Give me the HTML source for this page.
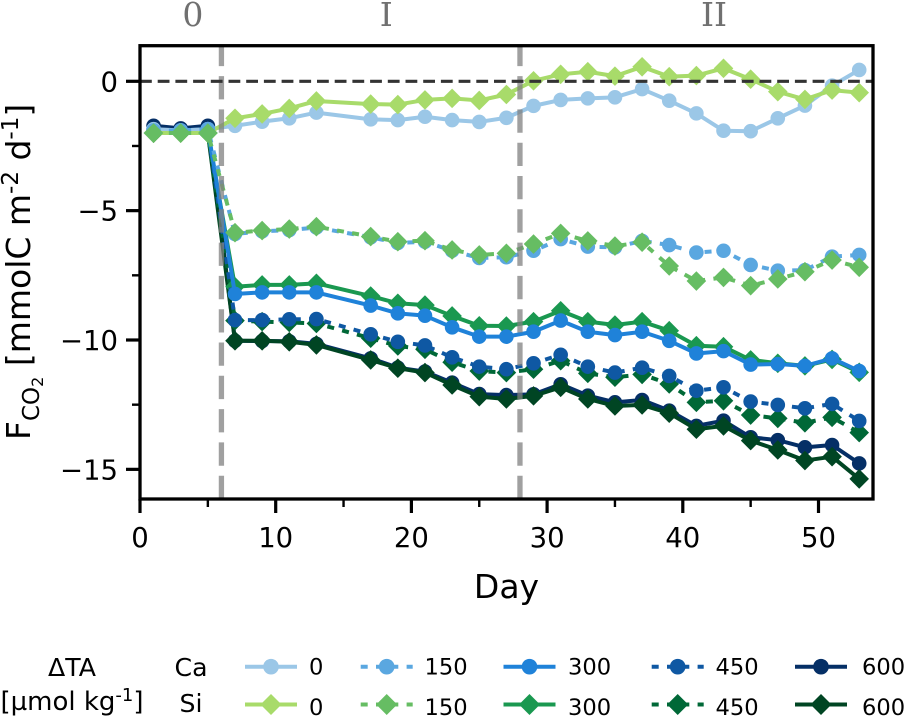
<!DOCTYPE html>
<html>
<head>
<meta charset="utf-8">
<title>CO2 flux chart</title>
<style>
html,body{margin:0;padding:0;background:#fff;}
svg{display:block;font-family:"DejaVu Sans","Liberation Sans",sans-serif;}
.leg{font-size:22.6px;fill:#000;}
.leg2{font-size:25.2px;fill:#000;}
</style>
</head>
<body>
<svg id="chart" width="905" height="716" viewBox="0 0 905 716" xmlns="http://www.w3.org/2000/svg">
  <g id="plot"></g>
  <g id="axes"></g>
  <text x="506.5" y="598" font-size="33" text-anchor="middle">Day</text>
  <text transform="translate(30,440) rotate(-90)" font-size="33">F<tspan font-size="23" dy="9">CO</tspan><tspan font-size="16" dy="4">2</tspan><tspan dy="-13"> [mmolC m</tspan><tspan font-size="23" dy="-12">-2</tspan><tspan dy="12"> d</tspan><tspan font-size="23" dy="-12">-1</tspan><tspan dy="12">]</tspan></text>

  <g>
    <text class="leg2" x="72" y="676" text-anchor="middle">ΔTA</text>
    <text class="leg2" x="72" y="710" text-anchor="middle" style="font-size:26px">[µmol kg<tspan font-size="18" dy="-9">-1</tspan><tspan dy="9">]</tspan></text>
    <text class="leg2" x="191" y="676" text-anchor="middle">Ca</text>
    <text class="leg2" x="191" y="712" text-anchor="middle">Si</text>

    <g>
      <line x1="245" x2="297" y1="666.7" y2="666.7" stroke="#9bc7e7" stroke-width="4"/>
      <circle cx="271" cy="666.7" r="7.8" fill="#9bc7e7"/>
      <text class="leg" x="309" y="674.5">0</text>
    </g>
    <g>
      <line x1="360.7" x2="412.7" y1="666.7" y2="666.7" stroke="#5aa7e0" stroke-width="4" stroke-dasharray="7 8.3"/>
      <circle cx="386.7" cy="666.7" r="7.8" fill="#5aa7e0"/>
      <text class="leg" x="424.5" y="674.5">150</text>
    </g>
    <g>
      <line x1="503.5" x2="555.5" y1="666.7" y2="666.7" stroke="#1f82d9" stroke-width="4"/>
      <circle cx="529.5" cy="666.7" r="7.8" fill="#1f82d9"/>
      <text class="leg" x="568" y="674.5">300</text>
    </g>
    <g>
      <line x1="651.7" x2="703.7" y1="666.7" y2="666.7" stroke="#0f58a3" stroke-width="4" stroke-dasharray="7 8.3"/>
      <circle cx="677.7" cy="666.7" r="7.8" fill="#0f58a3"/>
      <text class="leg" x="715.5" y="674.5">450</text>
    </g>
    <g>
      <line x1="795" x2="847" y1="666.7" y2="666.7" stroke="#052f66" stroke-width="4"/>
      <circle cx="821" cy="666.7" r="7.8" fill="#052f66"/>
      <text class="leg" x="862" y="674.5">600</text>
    </g>

    <g>
      <line x1="245" x2="297" y1="704.5" y2="704.5" stroke="#a8db6a" stroke-width="4"/>
      <polygon points="271,694 281.5,704.5 271,715 260.5,704.5" fill="#a8db6a"/>
      <text class="leg" x="309" y="715">0</text>
    </g>
    <g>
      <line x1="360.7" x2="412.7" y1="704.5" y2="704.5" stroke="#66bd63" stroke-width="4" stroke-dasharray="7 8.3"/>
      <polygon points="386.7,694 397.2,704.5 386.7,715 376.2,704.5" fill="#66bd63"/>
      <text class="leg" x="424.5" y="715">150</text>
    </g>
    <g>
      <line x1="503.5" x2="555.5" y1="704.5" y2="704.5" stroke="#1a9850" stroke-width="4"/>
      <polygon points="529.5,694 540,704.5 529.5,715 519,704.5" fill="#1a9850"/>
      <text class="leg" x="568" y="715">300</text>
    </g>
    <g>
      <line x1="651.7" x2="703.7" y1="704.5" y2="704.5" stroke="#006837" stroke-width="4" stroke-dasharray="7 8.3"/>
      <polygon points="677.7,694 688.2,704.5 677.7,715 667.2,704.5" fill="#006837"/>
      <text class="leg" x="715.5" y="715">450</text>
    </g>
    <g>
      <line x1="795" x2="847" y1="704.5" y2="704.5" stroke="#004523" stroke-width="4"/>
      <polygon points="821,694 831.5,704.5 821,715 810.5,704.5" fill="#004523"/>
      <text class="leg" x="862" y="715">600</text>
    </g>
  </g>
</svg>

<script>
const days = [1,3,5,7,9,11,13,17,19,21,23,25,27,29,31,33,35,37,39,41,43,45,47,49,51,53];
const ca0 = [-1.85,-1.9,-1.85,-1.72,-1.56,-1.43,-1.21,-1.47,-1.5,-1.37,-1.5,-1.57,-1.41,-0.95,-0.72,-0.66,-0.62,-0.3,-0.75,-1.24,-1.91,-1.93,-1.43,-0.94,-0.17,0.44];
const si0 = [-2.0,-2.0,-2.0,-1.43,-1.26,-1.05,-0.76,-0.88,-0.9,-0.72,-0.66,-0.74,-0.51,0.02,0.27,0.37,0.2,0.56,0.18,0.22,0.5,0.08,-0.4,-0.7,-0.34,-0.44];
const ca150 = [-1.9,-1.9,-1.85,-5.9,-5.8,-5.75,-5.65,-6.03,-6.25,-6.2,-6.55,-6.83,-6.8,-6.55,-6.1,-6.39,-6.42,-6.17,-6.33,-6.62,-6.55,-7.1,-7.32,-7.3,-6.78,-6.71];
const si150 = [-2.0,-2.0,-2.0,-5.85,-5.77,-5.71,-5.62,-6.0,-6.2,-6.16,-6.52,-6.71,-6.65,-6.29,-5.88,-6.17,-6.37,-6.22,-7.14,-7.72,-7.58,-7.9,-7.64,-7.36,-6.91,-7.19];
const ca300 = [-1.9,-1.9,-1.85,-8.22,-8.16,-8.16,-8.16,-8.67,-8.97,-9.06,-9.51,-9.87,-9.87,-9.68,-9.25,-9.68,-9.81,-9.68,-10.03,-10.52,-10.43,-10.95,-10.93,-11.0,-10.71,-11.2];
const si300 = [-2.0,-2.0,-2.0,-7.94,-7.87,-7.87,-7.81,-8.3,-8.58,-8.65,-9.07,-9.45,-9.46,-9.29,-8.87,-9.29,-9.42,-9.29,-9.64,-10.22,-10.26,-10.77,-10.9,-11.0,-10.75,-11.25];
const ca450 = [-1.85,-1.9,-1.85,-9.23,-9.23,-9.2,-9.19,-9.78,-10.07,-10.21,-10.67,-11.03,-11.13,-10.9,-10.57,-11.03,-11.26,-11.07,-11.39,-11.96,-11.83,-12.38,-12.51,-12.64,-12.47,-13.13];
const si450 = [-2.0,-2.0,-2.0,-9.25,-9.29,-9.32,-9.36,-9.93,-10.23,-10.36,-10.86,-11.2,-11.26,-11.13,-10.8,-11.29,-11.44,-11.33,-11.7,-12.41,-12.35,-12.9,-13.03,-13.2,-12.99,-13.58];
const ca600 = [-1.72,-1.82,-1.72,-10.03,-10.04,-10.05,-10.15,-10.71,-11.07,-11.22,-11.65,-12.09,-12.13,-12.1,-11.71,-12.15,-12.41,-12.32,-12.73,-13.32,-13.12,-13.76,-13.87,-14.15,-14.06,-14.77];
const si600 = [-2.0,-2.0,-2.0,-10.03,-10.03,-10.07,-10.19,-10.77,-11.09,-11.26,-11.74,-12.19,-12.28,-12.16,-11.83,-12.28,-12.55,-12.51,-12.83,-13.45,-13.32,-13.89,-14.25,-14.66,-14.51,-15.37];

const xMajorTicks = [0,10,20,30,40,50];
const xMinorTicks = [5,15,25,35,45];
const yMajorTicks = [0,-5,-10,-15];
const yMinorTicks = [-2.5,-7.5,-12.5];
const phaseDays = [6,28];
const phaseLabels = ['0','I','II'];
const phaseLabelDays = [3.9,18.15,42.3];

const NS = 'http://www.w3.org/2000/svg';
const left = 140, right = 873, top0 = 45.7, bottom = 499;
function xs(d){ return 140 + d * 13.57; }
function ys(v){ return 81.3 - v * 25.87; }

function make(tag, attrs, parent){
  const el = document.createElementNS(NS, tag);
  for (const k in attrs) el.setAttribute(k, attrs[k]);
  parent.appendChild(el);
  return el;
}

const plot = document.getElementById('plot');
const axes = document.getElementById('axes');

// draw order bottom → top, as in the reference
const seriesList = [
  {key:'ca-600', values:ca600, color:'#052f66', dash:false, shape:'circle'},
  {key:'si-600', values:si600, color:'#004523', dash:false, shape:'diamond'},
  {key:'si-450', values:si450, color:'#006837', dash:true,  shape:'diamond'},
  {key:'si-300', values:si300, color:'#1a9850', dash:false, shape:'diamond'},
  {key:'ca-450', values:ca450, color:'#0f58a3', dash:true,  shape:'circle'},
  {key:'ca-300', values:ca300, color:'#1f82d9', dash:false, shape:'circle'},
  {key:'ca-0',   values:ca0,   color:'#9bc7e7', dash:false, shape:'circle'},
  {key:'si-0',   values:si0,   color:'#a8db6a', dash:false, shape:'diamond'},
  {key:'ca-150', values:ca150, color:'#5aa7e0', dash:true,  shape:'circle'},
  {key:'si-150', values:si150, color:'#66bd63', dash:true,  shape:'diamond'}
];

seriesList.forEach(function(s){
  const g = make('g', {}, plot);
  
  
  const pts = s.values.map(function(v,i){ return xs(days[i]).toFixed(2) + ',' + ys(v).toFixed(2); }).join(' ');
  const line = make('polyline', {points:pts, fill:'none', stroke:s.color, 'stroke-width':4, 'stroke-linejoin':'round'}, g);
  if (s.dash) line.setAttribute('stroke-dasharray', '7 8.3');
  
  
  s.values.forEach(function(v,i){
    const x = xs(days[i]), y = ys(v);
    let m;
    if (s.shape === 'circle') {
      m = make('circle', {cx:x.toFixed(2), cy:y.toFixed(2), r:7.3, fill:s.color}, g);
    } else {
      const p = [[x,y-9.8],[x+9.8,y],[x,y+9.8],[x-9.8,y]].map(function(q){ return q[0].toFixed(2) + ',' + q[1].toFixed(2); }).join(' ');
      m = make('polygon', {points:p, fill:s.color}, g);
    }
    
    
  });
});

phaseDays.forEach(function(d){
  const l = make('line', {x1:xs(d), x2:xs(d), y1:bottom, y2:top0, stroke:'#808080', 'stroke-opacity':0.75, 'stroke-width':5.3, 'stroke-dasharray':'23.3 10'}, plot);
  
  
});

const zero = make('line', {x1:left, x2:right, y1:ys(0), y2:ys(0), stroke:'#333', 'stroke-width':3.2, 'stroke-dasharray':'11.8 5.9'}, plot);



phaseLabels.forEach(function(t,i){
  const el = make('text', {x:xs(phaseLabelDays[i]), y:26, 'font-size':33, 'font-family':'"DejaVu Serif", "Liberation Serif", serif', fill:'#707070', 'text-anchor':'middle'}, axes);
  el.textContent = t;
  
  
});

const frame = make('rect', {x:left, y:top0, width:right-left, height:bottom-top0, fill:'none', stroke:'#000', 'stroke-width':3.3}, axes);



xMajorTicks.forEach(function(v){
  const t = make('line', {x1:xs(v), x2:xs(v), y1:bottom, y2:bottom+14, stroke:'#000', 'stroke-width':3.2}, axes);
  
  
  const l = make('text', {x:xs(v), y:547, 'font-size':27.5, 'text-anchor':'middle'}, axes);
  l.textContent = String(v);
  
  
});
xMinorTicks.forEach(function(v){
  const t = make('line', {x1:xs(v), x2:xs(v), y1:bottom, y2:bottom+8, stroke:'#000', 'stroke-width':2.4}, axes);
  
  
});
yMajorTicks.forEach(function(v){
  const t = make('line', {x1:left-14, x2:left, y1:ys(v), y2:ys(v), stroke:'#000', 'stroke-width':3.2}, axes);
  
  
  const l = make('text', {x:118, y:ys(v)+10, 'font-size':27.5, 'text-anchor':'end'}, axes);
  l.textContent = String(v).replace('-', '−');
  
  
});
yMinorTicks.forEach(function(v){
  const t = make('line', {x1:left-8, x2:left, y1:ys(v), y2:ys(v), stroke:'#000', 'stroke-width':2.4}, axes);
  
  
});
</script>
</body>
</html>
